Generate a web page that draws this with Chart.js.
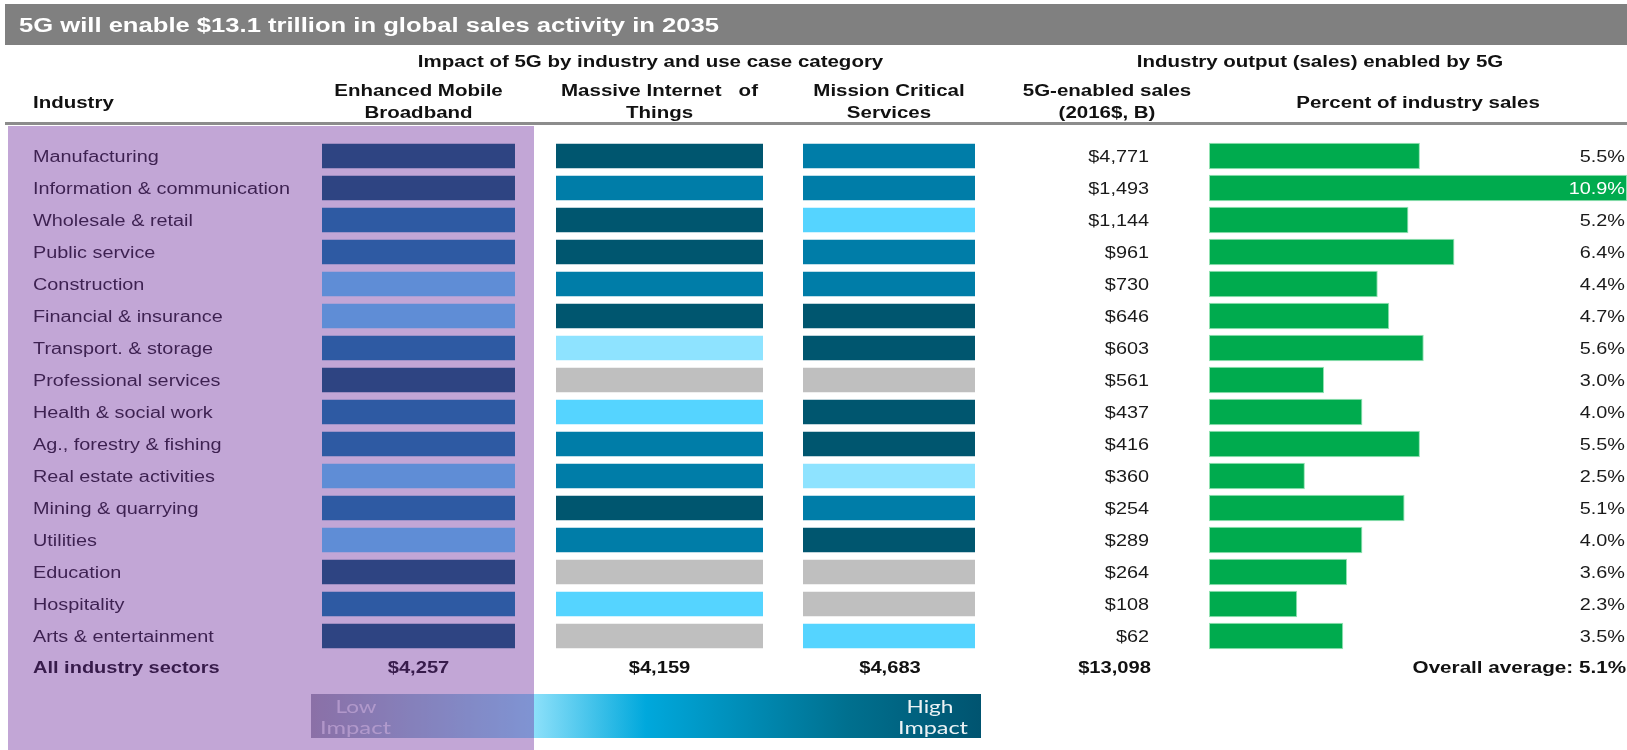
<!DOCTYPE html>
<html>
    <head>
        <meta charset="utf-8">
        <title>5G sales activity 2035</title>
        <script src="https://cdn.jsdelivr.net/npm/chart.js@4.4.0/dist/chart.umd.min.js"></script>
        <style>
            body { margin: 0; background: #fff; overflow: hidden; }
            canvas { display: block; }
        </style>
    </head>
    <body>
        <canvas id="chart" width="1627" height="750"></canvas>

        <script>
            const industries = [
                'Manufacturing', 'Information & communication', 'Wholesale & retail', 'Public service',
                'Construction', 'Financial & insurance', 'Transport. & storage', 'Professional services',
                'Health & social work', 'Ag., forestry & fishing', 'Real estate activities', 'Mining & quarrying',
                'Utilities', 'Education', 'Hospitality', 'Arts & entertainment'
            ]
            const totalLabel = 'All industry sectors'

            // impact level 0 (none) .. 4 (high)
            const embImpact = [4, 4, 3, 3, 2, 2, 3, 4, 3, 3, 2, 3, 2, 4, 3, 4]
            const iotImpact = [4, 3, 4, 4, 3, 4, 1, 0, 2, 3, 3, 4, 3, 0, 2, 0]
            const mcsImpact = [3, 3, 2, 3, 3, 4, 4, 0, 4, 4, 1, 3, 4, 0, 0, 2]

            const sales = [4771, 1493, 1144, 961, 730, 646, 603, 561, 437, 416, 360, 254, 289, 264, 108, 62]
            const pctSales = [5.5, 10.9, 5.2, 6.4, 4.4, 4.7, 5.6, 3.0, 4.0, 5.5, 2.5, 5.1, 4.0, 3.6, 2.3, 3.5]

            const embTotal = 4257
            const iotTotal = 4159
            const mcsTotal = 4683
            const salesTotal = 13098
            const avgPct = 5.1

            const levelColors = ['#BFBFBF', '#8EE3FF', '#55D4FF', '#007DA8', '#00566F']
            const green = '#00AB4E'
            const FONT = '"Liberation Sans", Arial, sans-serif'

            function money(v) { return '$' + v.toLocaleString('en-US') }

            // text drawn slightly stretched sideways like the source
            function txt(ctx, s, x, y, font, color, align, sx) {
                ctx.save()
                ctx.font = font
                ctx.fillStyle = color
                ctx.textAlign = align || 'left'
                ctx.textBaseline = 'middle'
                ctx.translate(x, y + 2)
                ctx.scale(sx || 1.24, 1)
                ctx.fillText(s, 0, 0)
                ctx.restore()
            }
            function fitTxt(ctx, s, x, y, font, color, align, w) {
                ctx.font = font
                txt(ctx, s, x, y - 1.5, font, color, align, w / ctx.measureText(s).width)
            }

            function tiles(impact, axis) {
                return {
                    xAxisID: axis,
                    data: impact.map(() => [0, 1]),
                    backgroundColor: impact.map(v => levelColors[v]),
                    borderColor: 'rgba(255,255,255,0.35)',
                    borderWidth: 1,
                    borderSkipped: false
                }
            }

            const tablePlugin = {
                id: 'table',
                beforeDraw(chart) {
                    const ctx = chart.ctx
                    ctx.save()
                    ctx.fillStyle = '#fff'
                    ctx.fillRect(0, 0, chart.width, chart.height)
                    // title bar
                    ctx.fillStyle = '#808080'
                    ctx.fillRect(5, 4, chart.width - 5, 41)
                    // separator under headers
                    ctx.fillStyle = '#8C8C8C'
                    ctx.fillRect(5, 122, chart.width - 5, 3)
                    ctx.restore()
                },
                afterDraw(chart) {
                    const ctx = chart.ctx
                    const s = chart.scales
                    const mid = sc => (sc.left + sc.right) / 2
                    const bold = 'bold 16px ' + FONT
                    const reg = '16px ' + FONT

                    txt(ctx, '5G will enable $13.1 trillion in global sales activity in 2035', 19, 24, 'bold 20px ' + FONT, '#fff', 'left', 1.28)

                    // headers
                    txt(ctx, 'Impact of 5G by industry and use case category', (s.xEmb.left + s.xMcs.right) / 2 + 2, 61, bold, '#111', 'center', 1.28)
                    txt(ctx, 'Industry output (sales) enabled by 5G', s.xPct.left + 111, 61, bold, '#111', 'center', 1.28)
                    txt(ctx, 'Industry', 33, 102, bold, '#111', 'left', 1.28)
                    txt(ctx, 'Enhanced Mobile', mid(s.xEmb), 90, bold, '#111', 'center', 1.28)
                    txt(ctx, 'Broadband', mid(s.xEmb), 112, bold, '#111', 'center', 1.28)
                    txt(ctx, 'Massive Internet   of', mid(s.xIot), 90, bold, '#111', 'center', 1.28)
                    txt(ctx, 'Things', mid(s.xIot), 112, bold, '#111', 'center', 1.28)
                    txt(ctx, 'Mission Critical', mid(s.xMcs), 90, bold, '#111', 'center', 1.28)
                    txt(ctx, 'Services', mid(s.xMcs), 112, bold, '#111', 'center', 1.28)
                    const salesRight = s.xPct.left - 60
                    txt(ctx, '5G-enabled sales', salesRight - 42, 90, bold, '#111', 'center', 1.28)
                    txt(ctx, '(2016$, B)', salesRight - 42, 112, bold, '#111', 'center', 1.28)
                    txt(ctx, 'Percent of industry sales', mid(s.xPct), 102, bold, '#111', 'center', 1.28)

                    // rows
                    industries.forEach((name, i) => {
                        const y = s.y.getPixelForValue(i)
                        txt(ctx, name, 33, y, reg, '#1a1a1a', 'left')
                        txt(ctx, money(sales[i]), salesRight, y, reg, '#1a1a1a', 'right')
                        const last = pctSales[i] >= s.xPct.max
                        txt(ctx, pctSales[i].toFixed(1) + '%', s.xPct.right - 2, y, reg, last ? '#fff' : '#1a1a1a', 'right')
                    })

                    // totals row
                    const yt = s.y.getPixelForValue(industries.length) - 1
                    txt(ctx, totalLabel, 33, yt, bold, '#111', 'left', 1.25)
                    txt(ctx, money(embTotal), mid(s.xEmb), yt, bold, '#111', 'center', 1.26)
                    txt(ctx, money(iotTotal), mid(s.xIot), yt, bold, '#111', 'center', 1.26)
                    txt(ctx, money(mcsTotal), mid(s.xMcs) + 1, yt, bold, '#111', 'center', 1.26)
                    txt(ctx, money(salesTotal), salesRight + 2, yt, bold, '#111', 'right', 1.26)
                    txt(ctx, 'Overall average: ' + avgPct.toFixed(1) + '%', s.xPct.right - 1, yt, bold, '#111', 'right', 1.29)

                    // impact legend
                    const lx = 311, lw = 670, ly = 694, lh = 44
                    const g = ctx.createLinearGradient(lx, 0, lx + lw, 0)
                    g.addColorStop(0, '#A0A2AE')
                    g.addColorStop(0.333, '#8CE0FA')
                    g.addColorStop(0.5, '#00A8DC')
                    g.addColorStop(0.8, '#00708F')
                    g.addColorStop(1, '#005470')
                    ctx.fillStyle = g
                    ctx.fillRect(lx, ly, lw, lh)
                    const lf = '17px Lato, "Open Sans", sans-serif'
                    fitTxt(ctx, 'Low', 356, 707, lf, 'rgba(255,255,255,0.7)', 'center', 41)
                    fitTxt(ctx, 'Impact', 320, 728, lf, 'rgba(255,255,255,0.7)', 'left', 71)
                    fitTxt(ctx, 'High', 930, 707, lf, 'rgba(255,255,255,0.92)', 'center', 47)
                    fitTxt(ctx, 'Impact', 968, 728, lf, 'rgba(255,255,255,0.92)', 'right', 70)

                    // translucent purple band over first column
                    ctx.save()
                    ctx.fillStyle = 'rgba(110,43,157,0.42)'
                    ctx.fillRect(8, 126, 526, chart.height - 126)
                    ctx.restore()
                }
            }

            const hidden = (w, order) => ({ type: 'linear', axis: 'x', position: 'bottom', stack: 'cols', stackWeight: w, weight: order, min: 0, max: 1, display: false })

            const ctx = document.getElementById('chart').getContext('2d')
            const myChart = new Chart(ctx, {
                type: 'bar',
                data: {
                    labels: industries.concat([totalLabel]),
                    datasets: [
                        tiles(embImpact, 'xEmb'),
                        tiles(iotImpact, 'xIot'),
                        tiles(mcsImpact, 'xMcs'),
                        {
                            xAxisID: 'xPct',
                            data: pctSales,
                            backgroundColor: green,
                            borderColor: 'rgba(120,220,160,0.8)',
                            borderWidth: 1,
                            borderSkipped: false
                        }
                    ]
                },
                options: {
                    indexAxis: 'y',
                    responsive: false,
                    animation: false,
                    devicePixelRatio: 1,
                    layout: { padding: { left: 321, right: 0, top: 140, bottom: 66 } },
                    datasets: { bar: { grouped: false, barPercentage: 0.834, categoryPercentage: 1 } },
                    plugins: { legend: { display: false }, tooltip: { enabled: false } },
                    scales: {
                        y: { type: 'category', display: false, offset: true },
                        xEmb: hidden(195, 0),
                        xGap1: hidden(39, 1),
                        xIot: hidden(209, 2),
                        xGap2: hidden(38, 3),
                        xMcs: hidden(174, 4),
                        xGap3: hidden(233, 5),
                        xPct: { type: 'linear', axis: 'x', position: 'bottom', stack: 'cols', stackWeight: 418, weight: 6, min: 0, max: 10.9, display: false }
                    }
                },
                plugins: [tablePlugin]
            })
        </script>
    </body>
</html>
